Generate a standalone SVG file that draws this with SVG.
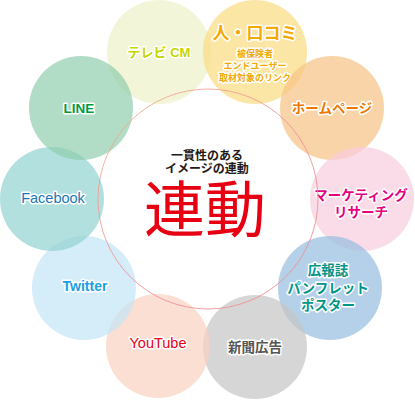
<svg xmlns="http://www.w3.org/2000/svg" width="415" height="400" viewBox="0 0 415 400">
<defs>
<linearGradient id="ringGrad" x1="0" y1="0" x2="1" y2="1">
<stop offset="0" stop-color="#f2b08a"/>
<stop offset="0.5" stop-color="#ef8f96"/>
<stop offset="1" stop-color="#f08a8a"/>
</linearGradient>
</defs>
<style>
.c{opacity:0.7}
.t{font-family:"Liberation Sans","Noto Sans CJK JP",sans-serif;font-weight:bold;text-anchor:middle;paint-order:stroke;stroke:#fff;stroke-width:3;stroke-linejoin:round}
.l{font-family:"Liberation Sans","Noto Sans",Arial,sans-serif;text-anchor:middle;paint-order:stroke;stroke:#fff;stroke-width:3;stroke-linejoin:round}
</style>
<rect width="415" height="400" fill="#fff"/>
<g id="node-tv"><circle class="c" cx="159" cy="52" r="52" fill="#eef1c7"/><text class="t" x="159" y="57" font-size="13" fill="#c5d500">テレビ CM</text></g>
<g id="node-kuchikomi"><circle class="c" cx="255" cy="52" r="52" fill="#f9db80"/>
<text class="t" x="255" y="39" font-size="17" fill="#f2a900">人・口コミ</text>
<text class="t" font-size="9" fill="#f2a900" stroke-width="2"><tspan x="255" y="57">被保険者</tspan><tspan x="255" y="69">エンドユーザー</tspan><tspan x="255" y="81">取材対象のリンク</tspan></text></g>
<g id="node-hp"><circle class="c" cx="332" cy="108" r="52" fill="#f6c283"/><text class="t" x="332" y="113" font-size="13.5" fill="#ee7800">ホームページ</text></g>
<g id="node-marketing"><circle class="c" cx="362" cy="199" r="52" fill="#f8cdde"/><text class="t" font-size="13.5" fill="#e4007f"><tspan x="361" y="200">マーケティング</tspan><tspan x="361" y="217">リサーチ</tspan></text></g>
<g id="node-koho"><circle class="c" cx="330" cy="288" r="52" fill="#95bde0"/><text class="t" font-size="13.5" fill="#00958a"><tspan x="328" y="275">広報誌</tspan><tspan x="328" y="293">パンフレット</tspan><tspan x="328" y="310">ポスター</tspan></text></g>
<g id="node-shinbun"><circle class="c" cx="255" cy="347" r="52" fill="#c4c4c4"/><text class="t" x="255" y="352" font-size="13.5" font-weight="normal" fill="#555">新聞広告</text></g>
<g id="node-youtube"><circle class="c" cx="158" cy="346" r="52" fill="#f9d1c0"/><text class="l" x="158" y="348" font-size="14.5" fill="#e60012">YouTube</text></g>
<g id="node-twitter"><circle class="c" cx="84" cy="288" r="52" fill="#c3e4f6"/><text class="l" x="85" y="291" font-size="14" font-weight="bold" fill="#1ba0e1">Twitter</text></g>
<g id="node-facebook"><circle class="c" cx="52" cy="199" r="52" fill="#92d3d0"/><text class="l" x="53" y="203" font-size="14.5" fill="#1a78b8">Facebook</text></g>
<g id="node-line"><circle class="c" cx="81" cy="108" r="52" fill="#90cdac"/><text class="l" x="79" y="113" font-size="13.5" font-weight="bold" fill="#009a3e">LINE</text></g>
<g id="node-center">
<circle cx="208" cy="199" r="110" fill="none" stroke="url(#ringGrad)" stroke-width="1" opacity="0.85"/>
<text font-family="Liberation Sans,Noto Sans CJK JP,sans-serif" font-weight="bold" font-size="12" text-anchor="middle" fill="#231815"><tspan x="207" y="159.5">一貫性のある</tspan><tspan x="207" y="173">イメージの連動</tspan></text>
<text x="205" y="232" font-family="Liberation Sans,Noto Sans CJK JP,sans-serif" font-size="61" text-anchor="middle" fill="#e60012">連動</text>
</g>
<g id="connectors"/>
</svg>
